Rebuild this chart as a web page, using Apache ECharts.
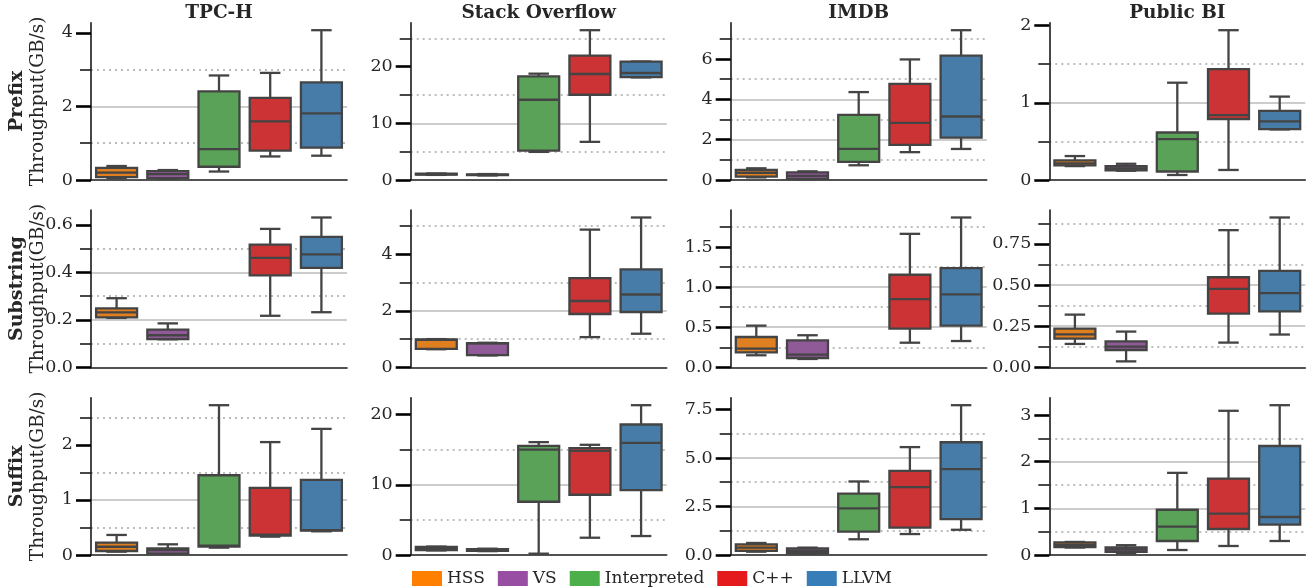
<!DOCTYPE html>
<html><head><meta charset="utf-8">
<script src="https://cdn.jsdelivr.net/npm/echarts@6/dist/echarts.min.js"></script>
<style>html,body{margin:0;padding:0;background:#fff}#c{width:1308px;height:588px}</style>
</head><body><div id="c"></div>
<script>
// ---------- data ----------
const methods = ['HSS', 'VS', 'Interpreted', 'C++', 'LLVM'];
const datasets = ['TPC-H', 'Stack Overflow', 'IMDB', 'Public BI'];
const operations = ['Prefix', 'Substring', 'Suffix'];
const yAxisTitle = 'Throughput(GB/s)';

// each entry: [lower whisker, Q1, median, Q3, upper whisker] per method (null = no data)
const prefixTPCH = [[0.05,0.08,0.2,0.33,0.38],[0.03,0.05,0.16,0.24,0.27],[0.23,0.36,0.84,2.41,2.84],[0.64,0.8,1.59,2.23,2.91],[0.66,0.88,1.81,2.65,4.07]];
const prefixSO   = [[0.9,0.95,1.0,1.1,1.15],[0.8,0.85,0.9,1.0,1.05],[4.96,5.19,14.16,18.29,18.76],[6.73,15.04,18.7,21.95,26.43],[18.1,18.15,18.88,20.88,20.9]];
const prefixIMDB = [[0.13,0.17,0.36,0.5,0.58],[0.03,0.05,0.2,0.38,0.43],[0.73,0.9,1.54,3.23,4.36],[1.38,1.74,2.83,4.77,5.98],[1.54,2.1,3.15,6.17,7.43]];
const prefixBI   = [[0.18,0.19,0.215,0.255,0.31],[0.12,0.125,0.15,0.18,0.21],[0.065,0.11,0.53,0.615,1.26],[0.13,0.79,0.84,1.437,1.94],[0.655,0.66,0.76,0.895,1.08]];

const substrTPCH = [[0.208,0.21,0.231,0.248,0.291],[0.118,0.119,0.135,0.159,0.185],null,[0.217,0.387,0.461,0.517,0.583],[0.232,0.419,0.476,0.549,0.631]];
const substrSO   = [[0.64,0.65,0.97,0.99,1.0],[0.42,0.43,0.85,0.86,0.87],null,[1.07,1.89,2.35,3.16,4.88],[1.19,1.96,2.58,3.47,5.31]];
const substrIMDB = [[0.15,0.187,0.233,0.378,0.52],[0.104,0.116,0.158,0.337,0.4],null,[0.307,0.482,0.852,1.155,1.666],[0.328,0.519,0.91,1.238,1.87]];
const substrBI   = [[0.142,0.174,0.2,0.235,0.32],[0.036,0.105,0.126,0.158,0.217],null,[0.15,0.326,0.476,0.547,0.833],[0.199,0.34,0.45,0.586,0.91]];

const suffixTPCH = [[0.06,0.073,0.15,0.224,0.364],[0.02,0.024,0.09,0.121,0.194],[0.133,0.152,0.17,1.448,2.72],[0.333,0.352,0.37,1.218,2.05],[0.43,0.442,0.45,1.364,2.29]];
const suffixSO   = [[0.65,0.7,0.9,1.15,1.2],[0.55,0.6,0.75,0.85,0.9],[0.19,7.58,15.0,15.55,16.07],[2.46,8.58,14.83,15.21,15.69],[2.7,9.24,15.97,18.58,21.33]];
const suffixIMDB = [[0.17,0.21,0.38,0.55,0.62],[0.07,0.09,0.22,0.34,0.38],[0.81,1.2,2.4,3.16,3.79],[1.08,1.41,3.5,4.34,5.56],[1.3,1.85,4.43,5.81,7.72]];
const suffixBI   = [[0.16,0.17,0.22,0.27,0.28],[0.036,0.07,0.12,0.164,0.21],[0.107,0.3,0.61,0.97,1.76],[0.193,0.557,0.886,1.636,3.09],[0.3,0.65,0.814,2.336,3.21]];

const stats = [
  [prefixTPCH, prefixSO, prefixIMDB, prefixBI],
  [substrTPCH, substrSO, substrIMDB, substrBI],
  [suffixTPCH, suffixSO, suffixIMDB, suffixBI]
];
// major tick step and label decimals per panel
const majorStep = [[2, 10, 2, 1], [0.2, 2, 0.5, 0.25], [1, 10, 2.5, 1]];
const labelDecimals = [[0, 0, 0, 0], [1, 0, 1, 2], [0, 0, 1, 0]];

// ---------- style ----------
const legendColors = ['#ff7f00', '#984ea3', '#4daf4a', '#e41a1c', '#377eb8'];
const boxColors = ['#df7f20', '#905998', '#59a257', '#cb3335', '#477ca8'];
const edgeGray = '#444444';
const FONT = 'DejaVu Serif';
const colLeft = [91, 410.7, 730.7, 1049.3];
const plotW = 256;
const rowTop = [22.7, 210, 397.7];
const plotH = 157.3;

const grids = [], xAxes = [], yAxes = [], series = [], graphics = [];

function makeRender(mi) {
  return function (params, api) {
    const x = api.value(0);
    const v = [1, 2, 3, 4, 5].map(i => api.value(i));
    const band = api.size([1, 0])[0];
    const bw = band * 0.8;
    const c = api.coord([x, v[2]])[0];
    const y = v.map(val => api.coord([x, val])[1]);
    const ls = { stroke: edgeGray, lineWidth: 2.3 };
    return {
      type: 'group',
      children: [
        { type: 'line', shape: { x1: c, y1: y[0], x2: c, y2: y[1] }, style: ls },
        { type: 'line', shape: { x1: c, y1: y[3], x2: c, y2: y[4] }, style: ls },
        { type: 'line', shape: { x1: c - bw / 4, y1: y[0], x2: c + bw / 4, y2: y[0] }, style: ls },
        { type: 'line', shape: { x1: c - bw / 4, y1: y[4], x2: c + bw / 4, y2: y[4] }, style: ls },
        { type: 'rect', shape: { x: c - bw / 2, y: y[3], width: bw, height: y[1] - y[3] },
          style: { fill: boxColors[mi], stroke: edgeGray, lineWidth: 2.3 } },
        { type: 'line', shape: { x1: c - bw / 2, y1: y[2], x2: c + bw / 2, y2: y[2] }, style: ls }
      ]
    };
  };
}

let gi = 0;
for (let r = 0; r < 3; r++) {
  for (let col = 0; col < 4; col++) {
    const panel = stats[r][col];
    let maxV = 0;
    panel.forEach(s => { if (s) maxV = Math.max(maxV, s[4]); });
    const ymax = maxV * 1.05;
    const step = majorStep[r][col];
    const dec = labelDecimals[r][col];
    const majors = [];
    for (let k = 0; k * step <= ymax + 1e-9; k++) majors.push(+(k * step).toFixed(6));

    grids.push({ left: colLeft[col], top: rowTop[r], width: plotW, height: plotH });
    xAxes.push({
      type: 'category', gridIndex: gi, data: methods, boundaryGap: true,
      axisLine: { show: true, lineStyle: { color: '#1a1a1a', width: 1.6 } },
      axisTick: { show: false }, axisLabel: { show: false }, splitLine: { show: false }
    });
    yAxes.push({
      type: 'value', gridIndex: gi, min: 0, max: ymax, interval: step,
      axisLine: { show: true, lineStyle: { color: '#1a1a1a', width: 1.6 } },
      axisTick: { show: true, length: 15, customValues: majors, lineStyle: { color: '#000', width: 2.6 } },
      axisLabel: {
        customValues: majors, margin: 18, fontFamily: FONT, fontSize: 17.5, color: '#262626',
        formatter: val => Number(val).toFixed(dec)
      },
      splitLine: { show: true, showMaxLine: false, showMinLine: false, lineStyle: { color: '#cccccc', width: 2 } },
      minorTick: { show: true, splitNumber: 2, length: 11, lineStyle: { color: '#1a1a1a', width: 1.6 } },
      minorSplitLine: { show: true, lineStyle: { color: '#bdbdbd', width: 2, type: [2, 4] } }
    });
    methods.forEach((m, mi) => {
      const s = panel[mi];
      series.push({
        type: 'custom', name: m, xAxisIndex: gi, yAxisIndex: gi,
        itemStyle: { color: legendColors[mi] },
        renderItem: makeRender(mi),
        encode: { x: 0, y: [1, 2, 3, 4, 5] },
        data: s ? [[mi, s[0], s[1], s[2], s[3], s[4]]] : []
      });
    });
    gi++;
  }
}

// column titles
datasets.forEach((d, col) => {
  graphics.push({ type: 'text', x: colLeft[col] + plotW / 2, y: 13,
    style: { text: d, font: 'bold 18.5px "DejaVu Serif"', fill: '#262626', textAlign: 'center', textVerticalAlign: 'middle' } });
});
// row labels
operations.forEach((op, r) => {
  const cy = rowTop[r] + plotH / 2;
  graphics.push({ type: 'text', x: 17, y: cy, rotation: Math.PI / 2,
    style: { text: op, font: 'bold 19px "DejaVu Serif"', fill: '#262626', textAlign: 'center', textVerticalAlign: 'middle' } });
  graphics.push({ type: 'text', x: 38, y: cy, rotation: Math.PI / 2,
    style: { text: yAxisTitle, font: '18.5px "DejaVu Serif"', fill: '#262626', textAlign: 'center', textVerticalAlign: 'middle' } });
});

const chart = echarts.init(document.getElementById('c'), null, { renderer: 'canvas' });
chart.setOption({
  animation: false,
  grid: grids, xAxis: xAxes, yAxis: yAxes, series: series,
  graphic: graphics,
  legend: {
    data: methods.map((m, i) => ({ name: m, itemStyle: { color: legendColors[i], borderWidth: 0 } })),
    left: 407, top: 565, icon: 'rect', itemWidth: 30, itemHeight: 15, itemGap: 13,
    selectedMode: false,
    textStyle: { fontFamily: FONT, fontSize: 17, color: '#262626' }
  }
});
</script></body></html>
